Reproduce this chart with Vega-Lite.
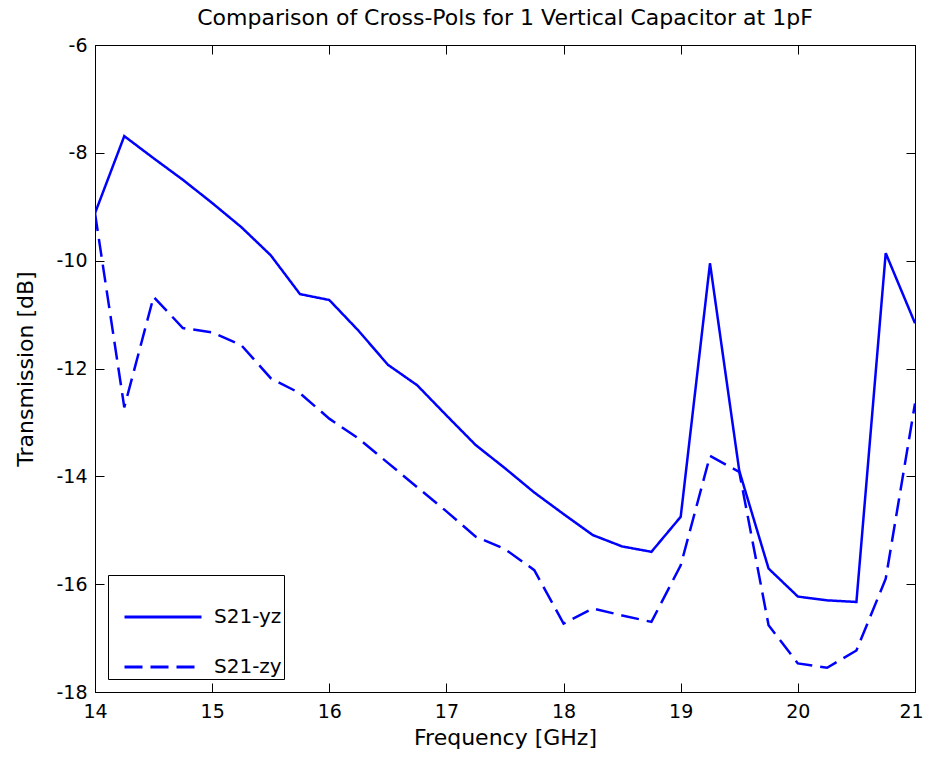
{
  "$schema": "https://vega.github.io/schema/vega-lite/v6.json",
  "autosize": "none",
  "width": 820,
  "height": 647,
  "padding": {"left": 95, "top": 45, "right": 10, "bottom": 72},
  "background": "white",
  "title": {
    "text": "Comparison of Cross-Pols for 1 Vertical Capacitor at 1pF",
    "font": "DejaVu Sans",
    "fontSize": 22,
    "fontWeight": "normal",
    "color": "black",
    "offset": 6
  },
  "config": {
    "view": {"stroke": "black", "strokeWidth": 1},
    "axis": {
      "labelFont": "DejaVu Sans",
      "titleFont": "DejaVu Sans",
      "labelColor": "black",
      "titleColor": "black",
      "domainColor": "black",
      "tickColor": "black",
      "grid": false
    }
  },
  "data": {
    "values": [
      {"f": 14, "v": -9.12, "s": "S21-yz"},
      {"f": 14.25, "v": -7.69, "s": "S21-yz"},
      {"f": 14.5, "v": -8.1, "s": "S21-yz"},
      {"f": 14.75, "v": -8.5, "s": "S21-yz"},
      {"f": 15, "v": -8.93, "s": "S21-yz"},
      {"f": 15.25, "v": -9.38, "s": "S21-yz"},
      {"f": 15.5, "v": -9.9, "s": "S21-yz"},
      {"f": 15.75, "v": -10.62, "s": "S21-yz"},
      {"f": 16, "v": -10.73, "s": "S21-yz"},
      {"f": 16.25, "v": -11.3, "s": "S21-yz"},
      {"f": 16.5, "v": -11.93, "s": "S21-yz"},
      {"f": 16.75, "v": -12.31, "s": "S21-yz"},
      {"f": 17, "v": -12.87, "s": "S21-yz"},
      {"f": 17.25, "v": -13.42, "s": "S21-yz"},
      {"f": 17.5, "v": -13.85, "s": "S21-yz"},
      {"f": 17.75, "v": -14.3, "s": "S21-yz"},
      {"f": 18, "v": -14.7, "s": "S21-yz"},
      {"f": 18.25, "v": -15.09, "s": "S21-yz"},
      {"f": 18.5, "v": -15.3, "s": "S21-yz"},
      {"f": 18.75, "v": -15.4, "s": "S21-yz"},
      {"f": 19, "v": -14.75, "s": "S21-yz"},
      {"f": 19.25, "v": -10.05, "s": "S21-yz"},
      {"f": 19.5, "v": -13.9, "s": "S21-yz"},
      {"f": 19.75, "v": -15.71, "s": "S21-yz"},
      {"f": 20, "v": -16.23, "s": "S21-yz"},
      {"f": 20.25, "v": -16.3, "s": "S21-yz"},
      {"f": 20.5, "v": -16.33, "s": "S21-yz"},
      {"f": 20.75, "v": -9.86, "s": "S21-yz"},
      {"f": 21, "v": -11.16, "s": "S21-yz"},
      {"f": 14, "v": -9.12, "s": "S21-zy"},
      {"f": 14.25, "v": -12.72, "s": "S21-zy"},
      {"f": 14.5, "v": -10.67, "s": "S21-zy"},
      {"f": 14.75, "v": -11.25, "s": "S21-zy"},
      {"f": 15, "v": -11.33, "s": "S21-zy"},
      {"f": 15.25, "v": -11.57, "s": "S21-zy"},
      {"f": 15.5, "v": -12.18, "s": "S21-zy"},
      {"f": 15.75, "v": -12.46, "s": "S21-zy"},
      {"f": 16, "v": -12.93, "s": "S21-zy"},
      {"f": 16.25, "v": -13.3, "s": "S21-zy"},
      {"f": 16.5, "v": -13.75, "s": "S21-zy"},
      {"f": 16.75, "v": -14.2, "s": "S21-zy"},
      {"f": 17, "v": -14.65, "s": "S21-zy"},
      {"f": 17.25, "v": -15.12, "s": "S21-zy"},
      {"f": 17.5, "v": -15.35, "s": "S21-zy"},
      {"f": 17.75, "v": -15.74, "s": "S21-zy"},
      {"f": 18, "v": -16.73, "s": "S21-zy"},
      {"f": 18.25, "v": -16.45, "s": "S21-zy"},
      {"f": 18.5, "v": -16.58, "s": "S21-zy"},
      {"f": 18.75, "v": -16.7, "s": "S21-zy"},
      {"f": 19, "v": -15.65, "s": "S21-zy"},
      {"f": 19.25, "v": -13.62, "s": "S21-zy"},
      {"f": 19.5, "v": -13.92, "s": "S21-zy"},
      {"f": 19.75, "v": -16.76, "s": "S21-zy"},
      {"f": 20, "v": -17.47, "s": "S21-zy"},
      {"f": 20.25, "v": -17.55, "s": "S21-zy"},
      {"f": 20.5, "v": -17.23, "s": "S21-zy"},
      {"f": 20.75, "v": -15.9, "s": "S21-zy"},
      {"f": 21, "v": -12.65, "s": "S21-zy"}
    ]
  },
  "layer": [
    {
      "mark": {"type": "line", "strokeWidth": 2.5, "clip": true},
      "encoding": {
        "x": {
          "field": "f", "type": "quantitative",
          "scale": {"domain": [14, 21], "nice": false, "zero": false},
          "axis": {
            "orient": "bottom",
            "title": "Frequency [GHz]",
            "titleFontSize": 22, "titleFontWeight": "normal", "titlePadding": 6,
            "labelFontSize": 19, "labelPadding": 19,
            "labelOffset": {"condition": {"test": "datum.value == 21", "value": -4}, "value": 0},
            "values": [14, 15, 16, 17, 18, 19, 20, 21],
            "tickSize": -9, "domain": true, "labelFlush": false
          }
        },
        "y": {
          "field": "v", "type": "quantitative",
          "scale": {"domain": [-18, -6], "nice": false, "zero": false},
          "axis": {
            "orient": "left",
            "title": "Transmission [dB]",
            "titleFontSize": 22, "titleFontWeight": "normal", "titlePadding": 18,
            "labelFontSize": 19, "labelPadding": 17,
            "labelExpr": "toString(datum.value)",
            "values": [-18, -16, -14, -12, -10, -8, -6],
            "tickSize": -9, "domain": true, "labelFlush": false
          }
        },
        "color": {
          "field": "s", "type": "nominal",
          "scale": {"domain": ["S21-yz", "S21-zy"], "range": ["#0000ff", "#0000ff"]},
          "legend": {
            "orient": "bottom-left",
            "offset": 13,
            "title": null,
            "strokeColor": "black",
            "fillColor": "white",
            "padding": 2,
            "labelFont": "DejaVu Sans",
            "labelFontSize": 20,
            "labelColor": "black",
            "symbolType": "stroke",
            "symbolSize": 5929,
            "symbolStrokeWidth": 3,
            "symbolOffset": 13,
            "rowPadding": -2,
            "labelOffset": 11
          }
        },
        "strokeDash": {
          "field": "s", "type": "nominal",
          "scale": {"domain": ["S21-yz", "S21-zy"], "range": [[1, 0], [18, 8]]},
          "legend": {
            "orient": "bottom-left",
            "offset": 13,
            "title": null,
            "strokeColor": "black",
            "fillColor": "white",
            "padding": 2,
            "labelFont": "DejaVu Sans",
            "labelFontSize": 20,
            "labelColor": "black",
            "symbolType": "stroke",
            "symbolSize": 5929,
            "symbolStrokeWidth": 3,
            "symbolOffset": 13,
            "rowPadding": -2,
            "labelOffset": 11
          }
        }
      }
    },
    {
      "mark": {"type": "line", "opacity": 0},
      "encoding": {
        "x": {
          "field": "f", "type": "quantitative",
          "scale": {"domain": [14, 21], "nice": false, "zero": false},
          "axis": {
            "orient": "top", "title": null, "labels": false,
            "values": [14, 15, 16, 17, 18, 19, 20, 21],
            "tickSize": -9, "domain": true
          }
        },
        "y": {
          "field": "v", "type": "quantitative",
          "scale": {"domain": [-18, -6], "nice": false, "zero": false},
          "axis": {
            "orient": "right", "title": null, "labels": false,
            "values": [-18, -16, -14, -12, -10, -8, -6],
            "tickSize": -9, "domain": true
          }
        },
        "detail": {"field": "s", "type": "nominal"}
      }
    }
  ],
  "resolve": {"axis": {"x": "independent", "y": "independent"}}
}
